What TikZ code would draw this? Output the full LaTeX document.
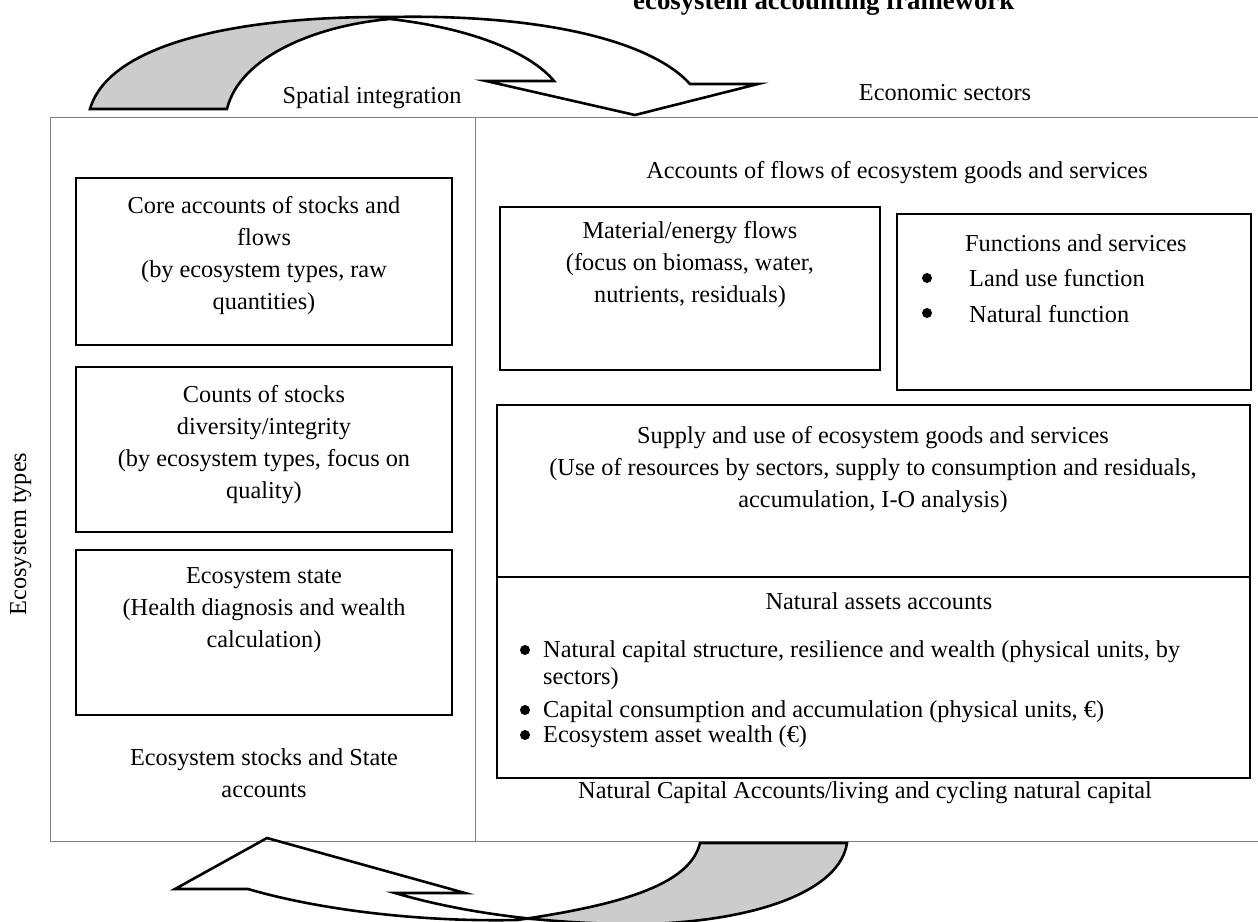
\documentclass[tikz,border=0pt]{standalone}
\usepackage{fontspec}
\setmainfont{Liberation Serif}
\newcommand\mystrut{\rule{0pt}{17pt}}
\begin{document}
\begin{tikzpicture}[x=1pt,y=-1pt,
  box/.style={draw=black,line width=1.8pt,inner sep=0pt},
  frm/.style={draw=black!50,line width=1pt},
  lbl/.style={font=\fontsize{24.3}{32}\selectfont,inner sep=0pt,align=center},
  bul/.style={circle,fill=black,inner sep=0pt,minimum size=10pt},
  arr/.style={draw=black,line width=2.6pt,line join=miter,miter limit=25},
  shd/.style={fill=black!20}]
\useasboundingbox (0,0) rectangle (1258,921);

% partially visible title
\node[anchor=base west,inner sep=0pt,font=\fontsize{26.8}{30}\selectfont\bfseries] (title) at (633,9) {ecosystem accounting framework};

% outer frame and divider
\node[frm,inner sep=0pt,minimum width=1208pt,minimum height=724pt] (frame) at (654,479) {};
\coordinate (dtop) at (475,117);
\coordinate (dbot) at (475,841);
\draw[frm] (dtop) -- (dbot);

% top twisted arrow
\fill[shd] (90,109) .. controls (110,40) and (250,16) .. (390,17) .. controls (320,25) and (240,55) .. (227,109) -- cycle;
\draw[arr] (227,109) -- (90,109) .. controls (110,40) and (250,16) .. (390,17) .. controls (540,14) and (650,40) .. (690,84) -- (758,84) -- (635,115) -- (486,81) -- (554,81) .. controls (530,52) and (470,28) .. (390,19) .. controls (320,25) and (240,55) .. (227,109) -- cycle;

% bottom twisted arrow
\fill[shd] (700,843) -- (847,843) .. controls (840,890) and (760,920) .. (650,924) .. controls (600,925) and (560,922) .. (517,920) .. controls (620,905) and (690,885) .. (700,843) -- cycle;
\draw[arr] (395,893) -- (465,893) -- (267,838) -- (175,889) -- (248,889) .. controls (320,910) and (420,922) .. (517,920) .. controls (620,905) and (690,885) .. (700,843) -- (847,843) .. controls (840,890) and (760,920) .. (650,924) .. controls (560,925) and (470,915) .. (395,893) -- cycle;

% free labels
\node[lbl,anchor=base] (spatial) at (372,103) {Spatial integration};
\node[lbl,anchor=base] (econ) at (945,100) {Economic sectors};
\node[lbl,anchor=base] (flows) at (897,178) {Accounts of flows of ecosystem goods and services};
\node[lbl,anchor=base,rotate=90] (ecotypes) at (26,534) {Ecosystem types};

% left column boxes
\node[box,minimum width=376pt,minimum height=167pt] (core) at (264,261.5) {};
\node[lbl,anchor=north] (coret) at (264,196.5) {\mystrut Core accounts of stocks and\\flows\\(by ecosystem types, raw\\quantities)};
\node[box,minimum width=376pt,minimum height=165pt] (counts) at (264,449.5) {};
\node[lbl,anchor=north] (countst) at (264,385.5) {\mystrut Counts of stocks\\diversity/integrity\\(by ecosystem types, focus on\\quality)};
\node[box,minimum width=376pt,minimum height=165pt] (state) at (264,632.5) {};
\node[lbl,anchor=north] (statet) at (264,566.5) {\mystrut Ecosystem state\\(Health diagnosis and wealth\\calculation)};
\node[lbl,anchor=north] (stockst) at (264,748) {\mystrut Ecosystem stocks and State\\accounts};

% right column boxes
\node[box,minimum width=380pt,minimum height=163pt] (mat) at (690,288.5) {};
\node[lbl,anchor=north] (matt) at (690,221.5) {\mystrut Material/energy flows\\(focus on biomass, water,\\nutrients, residuals)};

\node[box,minimum width=354pt,minimum height=176pt] (func) at (1074,302) {};
\node[lbl,anchor=base west] (funct) at (965,251) {Functions and services};
\node[bul] (fb1) at (927,278) {};
\node[lbl,anchor=base west] (ft1) at (969,286) {Land use function};
\node[bul] (fb2) at (927,313) {};
\node[lbl,anchor=base west] (ft2) at (969,322) {Natural function};

\node[box,minimum width=753pt,minimum height=373pt] (sup) at (873.5,591.5) {};
\coordinate (sdl) at (497,577);
\coordinate (sdr) at (1250,577);
\draw[line width=1.8pt] (sdl) -- (sdr);
\node[lbl,anchor=north] (supt) at (873,426) {\mystrut Supply and use of ecosystem goods and services\\(Use of resources by sectors, supply to consumption and residuals,\\accumulation, I-O analysis)};

\node[lbl,anchor=base] (nat) at (879,609) {Natural assets accounts};
\node[bul] (nb1) at (525,650) {};
\node[lbl,anchor=base west] (nt1) at (543,657) {Natural capital structure, resilience and wealth (physical units, by};
\node[lbl,anchor=base west] (nt1b) at (543,684) {sectors)};
\node[bul] (nb2) at (525,710) {};
\node[lbl,anchor=base west] (nt2) at (543,717) {Capital consumption and accumulation (physical units, €)};
\node[bul] (nb3) at (525,735) {};
\node[lbl,anchor=base west] (nt3) at (543,742) {Ecosystem asset wealth (€)};

\node[lbl,anchor=base] (natcap) at (865,798) {Natural Capital Accounts/living and cycling natural capital};
\end{tikzpicture}
\end{document}
